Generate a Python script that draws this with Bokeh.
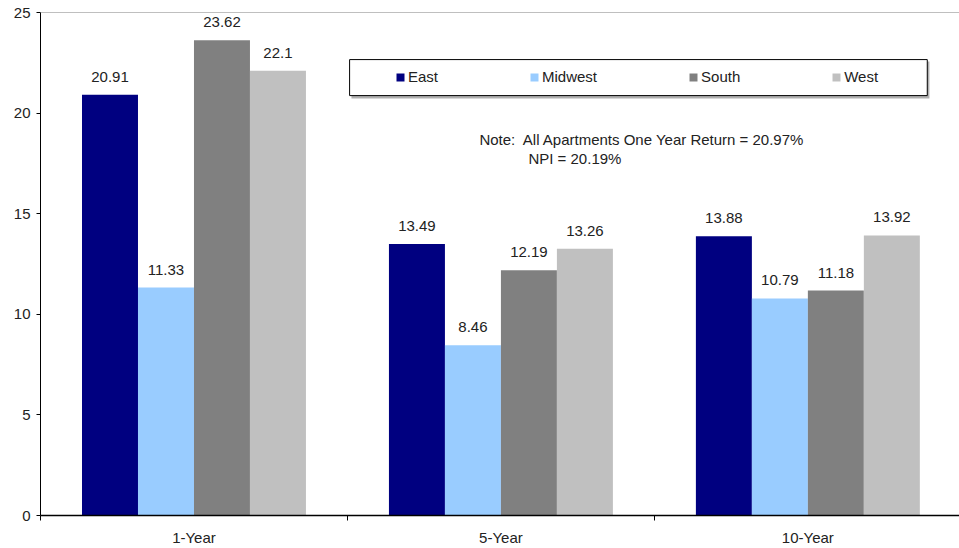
from bokeh.plotting import figure
from bokeh.models import (ColumnDataSource, Range1d, FixedTicker, Span, Legend,
                          LegendItem, Label)
from bokeh.core.properties import value
from bokeh.transform import dodge
from bokeh.embed import file_html
from bokeh.resources import INLINE

# Regional apartment returns (%) by holding period
periods = ["1-Year", "5-Year", "10-Year"]
regions = ["East", "Midwest", "South", "West"]
east = [20.91, 13.49, 13.88]
midwest = [11.33, 8.46, 10.79]
south = [23.62, 12.19, 11.18]
west = [22.1, 13.26, 13.92]
y_ticks = [0, 5, 10, 15, 20, 25]
note_lines = ["Note:\u00a0 All Apartments One Year Return = 20.97%", "NPI = 20.19%"]

colors = ["#000080", "#99CCFF", "#808080", "#C0C0C0"]
FONT = "Liberation Sans"
FS = "15px"
TEXT = "#222222"

centers = [i + 0.5 for i in range(len(periods))]
series = [east, midwest, south, west]

p = figure(width=959, height=548, output_backend="svg", toolbar_location=None,
           x_range=Range1d(0, 2.994), y_range=Range1d(0, 25),
           min_border_left=40, min_border_right=0, min_border_top=12,
           min_border_bottom=33)
p.outline_line_color = None
p.xgrid.grid_line_color = None
p.ygrid.grid_line_color = None
p.background_fill_color = "white"

# top border of the plotting area
p.add_layout(Span(location=25, dimension="width", line_color="#808080", line_width=1))

bar_w = 0.1824
offsets = [-1.5 * bar_w, -0.5 * bar_w, 0.5 * bar_w, 1.5 * bar_w]
renderers = []
for name, vals, col, off in zip(regions, series, colors, offsets):
    src = ColumnDataSource(dict(x=centers, top=vals, lab=[f"{v:g}" for v in vals]))
    r = p.vbar(x=dodge("x", off), top="top", width=bar_w, source=src,
               fill_color=col, line_color=None)
    p.text(x=dodge("x", off), y="top", text="lab", source=src,
           text_align="center", text_baseline="bottom", y_offset=-13,
           text_font_size=FS, text_color=TEXT, text_font=value(FONT))
    renderers.append(r)

# axes
yax = p.yaxis[0]
yax.ticker = FixedTicker(ticks=y_ticks)
yax.axis_line_color = "black"
yax.major_tick_line_color = "black"
yax.major_tick_out = 4
yax.major_tick_in = 0
yax.minor_tick_line_color = None
yax.major_label_standoff = 6
yax.major_label_text_font = FONT
yax.major_label_text_font_size = FS
yax.major_label_text_color = TEXT

xax = p.xaxis[0]
xax.ticker = FixedTicker(ticks=centers, minor_ticks=[0, 1, 2, 3])
xax.major_label_overrides = {c: n for c, n in zip(centers, periods)}
xax.axis_line_color = "black"
xax.axis_line_width = 1.5
xax.major_tick_line_color = None
xax.major_tick_out = 0
xax.major_tick_in = 0
xax.minor_tick_line_color = "black"
xax.minor_tick_out = 5
xax.minor_tick_in = 0
xax.major_label_standoff = 8
xax.major_label_text_font = FONT
xax.major_label_text_font_size = FS
xax.major_label_text_color = TEXT

# legend frame with a faint shadow
p.quad(left=[1.013], right=[2.896], top=[22.56], bottom=[20.72],
       fill_color="#b0b0b0", line_color=None)
p.quad(left=[1.007], right=[2.889], top=[22.66], bottom=[20.87],
       fill_color="white", line_color="black", line_width=1)

legend = Legend(items=[LegendItem(label=n, renderers=[r]) for n, r in zip(regions, renderers)],
                orientation="horizontal", location=(355, 430),
                glyph_width=10, glyph_height=10, label_standoff=3, spacing=91,
                label_height=16, padding=0, margin=0,
                border_line_color=None, background_fill_alpha=0,
                label_text_font=FONT, label_text_font_size=FS,
                label_text_color=TEXT)
p.add_layout(legend)

p.add_layout(Label(x=1.43, y=18.69, text=note_lines[0], text_baseline="middle",
                   text_font=FONT, text_font_size=FS, text_color=TEXT))
p.add_layout(Label(x=1.5896, y=17.74, text=note_lines[1], text_baseline="middle",
                   text_font=FONT, text_font_size=FS, text_color=TEXT))

open("out.html", "w").write(file_html(p, INLINE))
